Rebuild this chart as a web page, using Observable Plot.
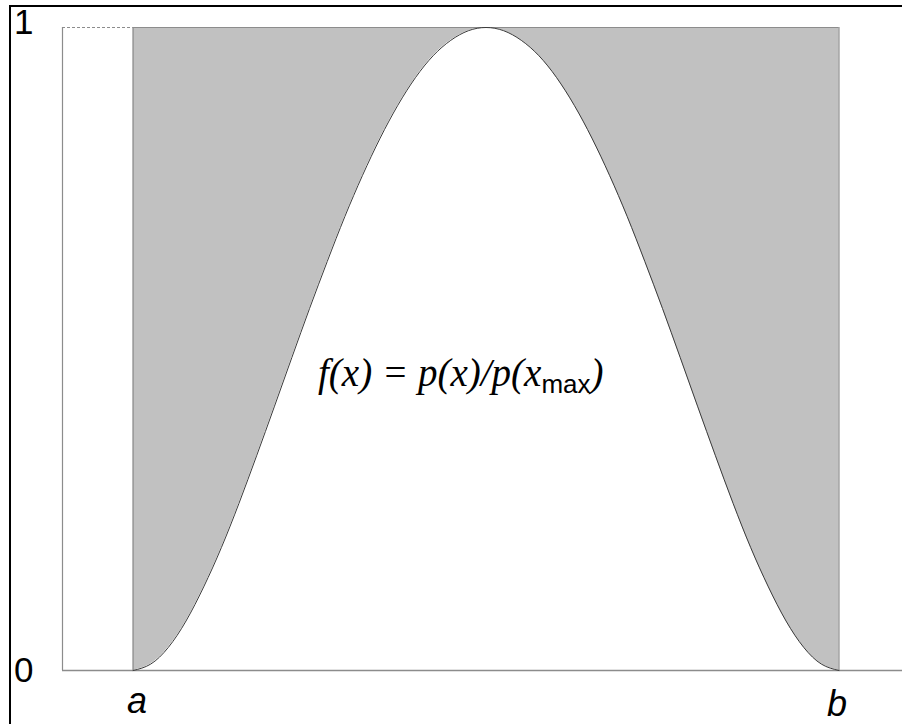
<!DOCTYPE html>
<html>
<head>
<meta charset="utf-8">
<script src="https://cdn.jsdelivr.net/npm/d3@7"></script>
<script src="https://cdn.jsdelivr.net/npm/@observablehq/plot@0.6"></script>
<style>
  html, body { margin: 0; padding: 0; background: #fff; }
  #wrap { position: relative; width: 902px; height: 724px; overflow: hidden; }
  #edge { position: absolute; left: 9px; top: 5px; width: 900px; height: 730px;
          border-top: 2px solid #000; border-left: 2px solid #000; pointer-events: none; }
  #wrap svg { position: absolute; left: 0; top: 0; }
</style>
</head>
<body>
<div id="wrap"><div id="edge"></div></div>
<script>
// Normalised position between the endpoints a (0) and b (1)
const xs = [0, 0.025, 0.05, 0.075, 0.1, 0.125, 0.15, 0.175, 0.2, 0.225, 0.25, 0.275, 0.3, 0.325, 0.35, 0.375, 0.4, 0.425, 0.45, 0.475,
            0.5, 0.525, 0.55, 0.575, 0.6, 0.625, 0.65, 0.675, 0.7, 0.725, 0.75, 0.775, 0.8, 0.825, 0.85, 0.875, 0.9, 0.925, 0.95, 0.975, 1];
// Normalised density f(x) = p(x)/p(x_max)
const fs = [0, 0.010, 0.036, 0.077, 0.130, 0.191, 0.260, 0.334, 0.410, 0.487, 0.563, 0.636, 0.706, 0.770, 0.828, 0.879, 0.922, 0.956, 0.980, 0.995,
            1, 0.995, 0.980, 0.956, 0.922, 0.879, 0.828, 0.770, 0.706, 0.636, 0.563, 0.487, 0.410, 0.334, 0.260, 0.191, 0.130, 0.077, 0.036, 0.010, 0];

const xDomain = [-0.1, 1.09];
const ends = [0, 1];          // a, b
const endLabels = ["a", "b"];
const yTicks = [0, 1];
const yLabels = ["0", "1"];
const formula = { x: 0.262, y: 0.443 };

const rows = xs.map((x, i) => ({x, f: fs[i]}));
const lineGray = "#8c8c8c";
const sans = "Liberation Sans, Arial, sans-serif";

const chart = Plot.plot({
  width: 902,
  height: 724,
  marginLeft: 62,
  marginRight: 0,
  marginTop: 27,
  marginBottom: 54,
  x: { domain: xDomain, axis: null },
  y: { domain: [0, 1], axis: null },
  style: { background: "transparent" },
  marks: [
    // shaded region between the curve and 1
    Plot.areaY(rows, { x: "x", y1: "f", y2: 1, fill: "#c1c1c1", curve: "natural" }),
    // the box around the shaded region
    Plot.ruleX(ends, { y1: 0, y2: 1, stroke: lineGray, strokeWidth: 1.2 }),
    Plot.ruleY([yTicks[1]], { x1: ends[0], x2: ends[1], stroke: lineGray, strokeWidth: 1 }),
    Plot.ruleY([yTicks[1]], { x1: xDomain[0], x2: ends[0], stroke: lineGray, strokeDasharray: "3,2" }),
    // axes
    Plot.ruleX([xDomain[0]], { y1: 0, y2: 1, stroke: lineGray, strokeWidth: 1.2 }),
    Plot.ruleY([0], { x1: xDomain[0], x2: xDomain[1], stroke: lineGray, strokeWidth: 1.5 }),
    // the curve
    Plot.line(rows, { x: "x", y: "f", stroke: "#3a3a3a", strokeWidth: 1, curve: "natural" }),
    // tick labels
    Plot.text([yTicks[0]], { y: d => d, text: () => yLabels[0], frameAnchor: "left", dx: -29, textAnchor: "end",
      fontSize: 35, fontFamily: sans, fill: "#000" }),
    Plot.text([yTicks[1]], { y: d => d, text: () => yLabels[1], frameAnchor: "left", dx: -29, dy: -5, textAnchor: "end",
      fontSize: 35, fontFamily: sans, fill: "#000" }),
    Plot.text([ends[0]], { x: d => d, y: 0, text: () => endLabels[0], dx: 4, dy: 31,
      fontSize: 36, fontStyle: "italic", fontFamily: sans, fill: "#000" }),
    Plot.text([ends[1]], { x: d => d, y: 0, text: () => endLabels[1], dx: -2, dy: 34,
      fontSize: 36, fontStyle: "italic", fontFamily: sans, fill: "#000" }),
    // formula label
    Plot.text([formula], { x: "x", y: "y", text: () => "f(x) = p(x)/p(x", textAnchor: "start", lineAnchor: "bottom",
      fontSize: 39, fontStyle: "italic", fontFamily: "Liberation Serif, Times New Roman, serif", fill: "#000",
      className: "formula" })
  ]
});

// Add the "max" subscript and closing parenthesis to the formula
d3.select(chart).selectAll("g.formula text").each(function () {
  const t = d3.select(this);
  t.text("f(x) = p(x)/p(x");
  t.append("tspan")
    .attr("font-style", "normal")
    .attr("font-family", sans)
    .attr("font-size", 26)
    .attr("dy", 7)
    .text("max");
  t.append("tspan")
    .attr("dy", -7)
    .text(")");
});

document.getElementById("wrap").prepend(chart);
</script>
</body>
</html>
